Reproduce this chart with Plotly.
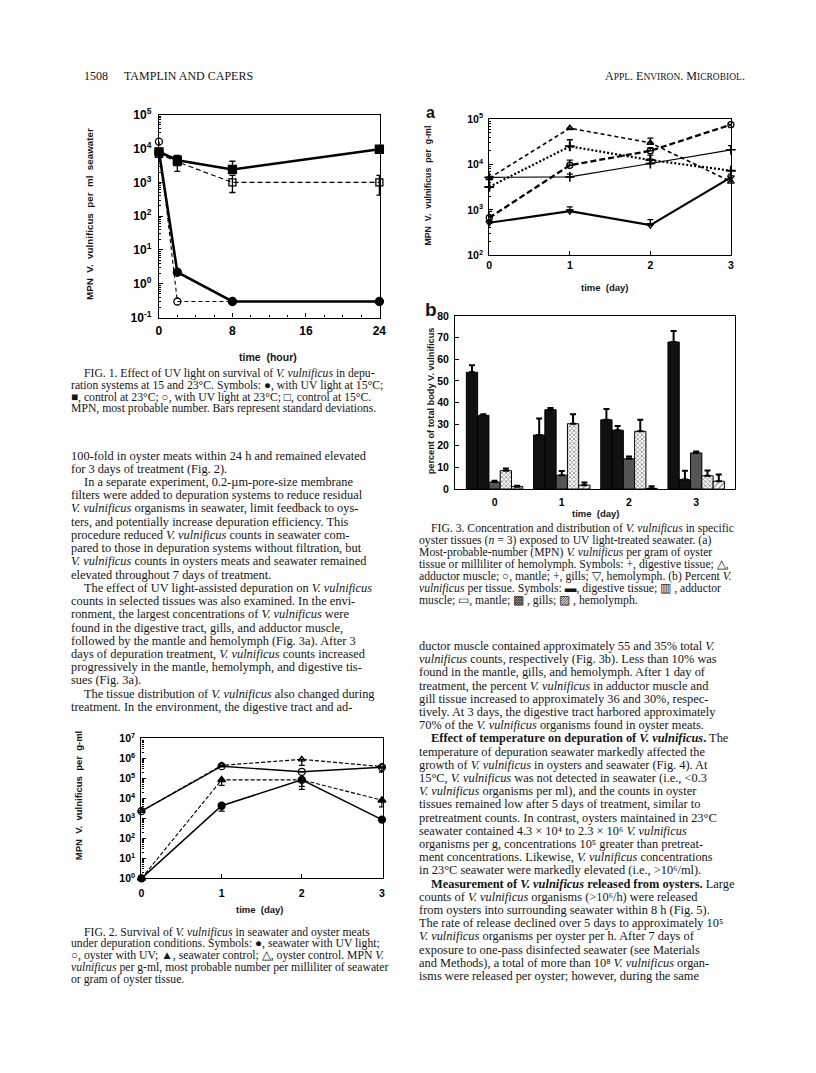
import plotly.graph_objects as go

W, H = 816, 1073


def fx(p):
    return p / W


def fy(p):
    return 1 - p / H


# ---------------- DATA ----------------
# Fig. 1 : MPN V. vulnificus per ml seawater vs time (hour)
fig1_time = [0, 2, 8, 24]
fig1_uv15 = [8000, 2.2, 0.3, 0.3]          # filled circle
fig1_ctrl23 = [8000, 4500, 2400, 9500]     # filled square
fig1_uv23 = [16000, 0.3, 0.3, 0.3]         # open circle
fig1_ctrl15 = [7000, 4000, 1000, 1000]     # open square
fig1_ctrl23_sd_up = [0, 1800, 1800, 0]
fig1_ctrl15_sd_up = [0, 0, 600, 600]
fig1_ctrl15_sd_dn = [0, 1900, 500, 580]

# Fig. 3a : MPN per g-ml per tissue vs time (day)
fig3_days = [0, 1, 2, 3]
fig3a_digestive = [5200, 5300, 10500, 21000]
fig3a_adductor = [5000, 63000, 30000, 4200]
fig3a_mantle = [670, 9600, 20000, 75000]
fig3a_gills = [3200, 25000, 12500, 7300]
fig3a_hemolymph = [520, 940, 460, 5200]
fig3a_digestive_sd = [0, 800, 2500, 5000]
fig3a_adductor_sd = [0, 0, 8000, 0]
fig3a_mantle_sd = [260, 2900, 3000, 0]
fig3a_gills_sd = [0, 10000, 3500, 0]
fig3a_gills_sd_dn = [0, 0, 2000, 0]
fig3a_hemolymph_sd = [0, 220, 150, 900]

# Fig. 3b : percent of total body V. vulnificus
fig3b_digestive = [54, 25, 32, 68]
fig3b_adductor = [34.1, 36.7, 27.2, 4.4]
fig3b_mantle = [3.2, 6.4, 14, 16.7]
fig3b_gills = [8.5, 30.2, 26.7, 6.1]
fig3b_hemolymph = [1.1, 1.8, 0.3, 3.6]
fig3b_digestive_sd = [3.2, 7.6, 5.0, 5.1]
fig3b_adductor_sd = [0.5, 0.8, 2.0, 4.1]
fig3b_mantle_sd = [0.6, 1.9, 1.0, 0.6]
fig3b_gills_sd = [1.0, 4.4, 5.3, 2.5]
fig3b_hemolymph_sd = [0.4, 1.2, 1.0, 3.1]

# Fig. 2 : MPN per g-ml, seawater and oyster meats
fig2_days = [0, 1, 2, 3]
fig2_sea_uv = [1, 4300, 85000, 870]            # filled circle
fig2_oyster_uv = [2300, 410000, 215000, 360000]  # open circle
fig2_sea_ctrl = [1, 85000, 85000, 8100]        # filled triangle
fig2_oyster_ctrl = [2300, 450000, 900000, 390000]  # open triangle
fig2_sea_uv_sd = [0, 2000, 57000, 0]
fig2_sea_ctrl_sd = [0, 40000, 45000, 4300]
fig2_oyster_ctrl_sd = [0, 0, 450000, 0]
fig2_oyster_uv_sd = [0, 0, 0, 150000]

log_labels = {k: "<b>10<sup>%d</sup></b>" % k for k in range(-1, 8)}

# ---------------- FIGURE ----------------
fig = go.Figure()

LBLK = "black"


def sc(x, y, xa, ya, symbol, size, lw, dash, err_up=None, err_dn=None, mlw=1.3):
    ey = None
    if err_up is not None or err_dn is not None:
        up = err_up if err_up is not None else [0] * len(x)
        dn = err_dn if err_dn is not None else [0] * len(x)
        ey = dict(type="data", symmetric=False, array=up, arrayminus=dn,
                  color=LBLK, thickness=1.3, width=3)
    return go.Scatter(
        x=x, y=y, xaxis=xa, yaxis=ya, mode="lines+markers",
        line=dict(color=LBLK, width=lw, dash=dash),
        marker=dict(symbol=symbol, size=size, color=LBLK,
                    line=dict(color=LBLK, width=mlw)),
        error_y=ey, cliponaxis=False, showlegend=False,
    )


# Fig 1
fig.add_trace(sc(fig1_time, fig1_ctrl15, "x", "y", "square-open", 7, 1.1, "5px,3px",
                 fig1_ctrl15_sd_up, fig1_ctrl15_sd_dn))
fig.add_trace(sc(fig1_time, fig1_uv23, "x", "y", "circle-open", 7, 1.1, "4px,3px"))
fig.add_trace(sc(fig1_time, fig1_ctrl23, "x", "y", "square", 8, 2.6, "solid",
                 fig1_ctrl23_sd_up, None))
fig.add_trace(sc(fig1_time, fig1_uv15, "x", "y", "circle", 8, 2.6, "solid"))

# Fig 3a
fig.add_trace(sc(fig3_days, fig3a_digestive, "x2", "y2", "cross-thin-open", 7, 1.2, "solid",
                 fig3a_digestive_sd, None, 1.6))
fig.add_trace(sc(fig3_days, fig3a_adductor, "x2", "y2", "triangle-up-open", 6, 1.6, "4px,3px",
                 fig3a_adductor_sd, None))
fig.add_trace(sc(fig3_days, fig3a_mantle, "x2", "y2", "circle-open", 6, 2.3, "6px,3px",
                 fig3a_mantle_sd, None))
fig.add_trace(sc(fig3_days, fig3a_gills, "x2", "y2", "cross-thin-open", 7, 2.2, "2px,2px",
                 fig3a_gills_sd, fig3a_gills_sd_dn, 2.0))
fig.add_trace(sc(fig3_days, fig3a_hemolymph, "x2", "y2", "triangle-down-open", 6, 2.2, "solid",
                 fig3a_hemolymph_sd, None))

# Fig 3b bars
bar_specs = [
    (fig3b_digestive, fig3b_digestive_sd, dict(color="#111111")),
    (fig3b_adductor, fig3b_adductor_sd, dict(color="#111111")),
    (fig3b_mantle, fig3b_mantle_sd, dict(color="#555555")),
    (fig3b_gills, fig3b_gills_sd, dict(color="white",
                                       pattern=dict(shape="x", size=3, solidity=0.45,
                                                    fgcolor="#111111", bgcolor="white"))),
    (fig3b_hemolymph, fig3b_hemolymph_sd, dict(color="white",
                                               pattern=dict(shape="/", size=4, solidity=0.3,
                                                            fgcolor="#111111", bgcolor="white"))),
]
for vals, sd, mk in bar_specs:
    m = dict(mk)
    m["line"] = dict(color="black", width=1)
    fig.add_trace(go.Bar(
        x=fig3_days, y=vals, xaxis="x3", yaxis="y3", marker=m, showlegend=False,
        error_y=dict(type="data", symmetric=False, array=sd, arrayminus=[0] * len(sd),
                     color="black", thickness=2, width=3),
    ))

# Fig 2
fig.add_trace(sc(fig2_days, fig2_oyster_ctrl, "x4", "y4", "triangle-up-open", 6, 1.2, "4px,2px",
                 None, fig2_oyster_ctrl_sd))
fig.add_trace(sc(fig2_days, fig2_sea_ctrl, "x4", "y4", "triangle-up", 7, 1.1, "4px,2px",
                 None, fig2_sea_ctrl_sd))
fig.add_trace(sc(fig2_days, fig2_oyster_uv, "x4", "y4", "circle-open", 7, 1.4, "solid",
                 None, fig2_oyster_uv_sd))
fig.add_trace(sc(fig2_days, fig2_sea_uv, "x4", "y4", "circle", 7, 1.5, "solid",
                 None, fig2_sea_uv_sd))


def box(dom, **kw):
    d = dict(domain=dom, showline=True, mirror=True, linecolor="black", linewidth=1.4,
             showgrid=False, zeroline=False, ticks="inside", tickcolor="black",
             ticklen=4, tickwidth=1.2,
             tickfont=dict(family="Liberation Sans", size=11, color="black"))
    d.update(kw)
    return d


def logminor(lo, hi):
    v = []
    for e in range(lo, hi):
        for k in range(2, 10):
            v.append(k * 10 ** e)
    return v


TF = dict(family="Liberation Sans", size=12, color="black")
TFs = dict(family="Liberation Sans", size=10.5, color="black")

fig.update_layout(
    width=W, height=H, margin=dict(l=0, r=0, t=0, b=0),
    paper_bgcolor="white", plot_bgcolor="rgba(0,0,0,0)",
    showlegend=False, barmode="group", bargap=0.16, bargroupgap=0,
    # Fig 1
    xaxis=box([fx(157.7), fx(381.5)], anchor="y", range=[0, 24.1],
              tickvals=[0, 8, 16, 24], ticktext=["<b>0</b>", "<b>8</b>", "<b>16</b>", "<b>24</b>"],
              minor=dict(tickvals=list(range(2, 24, 2)), ticks="inside", ticklen=2,
                         tickcolor="black"),
              tickfont=TF, ticklabelstandoff=2),
    yaxis=box([fy(313.3), fy(107.3)], anchor="x", type="log", range=[-1, 5],
              tickvals=[10 ** k for k in range(-1, 6)],
              ticktext=[log_labels[k] for k in range(-1, 6)],
              minor=dict(tickvals=logminor(-1, 5), ticks="inside", ticklen=2,
                         tickcolor="black"),
              tickfont=TF, ticklabelstandoff=4),
    # Fig 3a
    xaxis2=box([fx(491.7), fx(736)], anchor="y2", range=[0, 3],
               tickvals=[0, 1, 2, 3], ticktext=["<b>0</b>", "<b>1</b>", "<b>2</b>", "<b>3</b>"],
               tickfont=TFs, ticklabelstandoff=0),
    yaxis2=box([fy(250), fy(111.7)], anchor="x2", type="log", range=[2, 5],
               tickvals=[10 ** k for k in range(2, 6)],
               ticktext=[log_labels[k] for k in range(2, 6)],
               minor=dict(tickvals=logminor(2, 5), ticks="inside", ticklen=2,
                          tickcolor="black"),
               tickfont=TFs, ticklabelstandoff=3),
    # Fig 3b
    xaxis3=box([fx(457.3), fx(740)], anchor="y3", range=[-0.585, 3.575],
               tickvals=[0, 1, 2, 3], ticktext=["<b>0</b>", "<b>1</b>", "<b>2</b>", "<b>3</b>"],
               ticks="", tickfont=TFs, ticklabelstandoff=3),
    yaxis3=box([fy(487.3), fy(311.7)], anchor="x3", range=[0, 80],
               tickvals=list(range(0, 81, 10)),
               ticktext=["<b>%d</b>" % v for v in range(0, 81, 10)],
               tickfont=TFs, ticklabelstandoff=3),
    # Fig 2
    xaxis4=box([fx(140), fx(384)], anchor="y4", range=[0, 3.01],
               tickvals=[0, 1, 2, 3], ticktext=["<b>0</b>", "<b>1</b>", "<b>2</b>", "<b>3</b>"],
               tickfont=TFs, ticklabelstandoff=5),
    yaxis4=box([fy(882.5), fy(740.5)], anchor="x4", type="log", range=[0, 7],
               tickvals=[10 ** k for k in range(0, 8)],
               ticktext=[log_labels[k] for k in range(0, 8)],
               minor=dict(tickvals=logminor(0, 7), ticks="inside", ticklen=2,
                          tickcolor="black"),
               tickfont=TFs, ticklabelstandoff=3),
)

ann = []


def A(text, x, y, size=12.4, family="Liberation Serif", xanchor="left", yanchor="middle",
      angle=0, color="#151515"):
    ann.append(dict(text=text, x=fx(x), y=fy(y), xref="paper", yref="paper",
                    showarrow=False, xanchor=xanchor, yanchor=yanchor, textangle=angle,
                    font=dict(family=family, size=size, color=color)))


SANS = "Liberation Sans"
# axis titles
A("<b>MPN  V.  vulnificus  per  ml  seawater</b>", 88, 208, 9.8, SANS, "center", "middle", -90)
A("<b>time  (hour)</b>", 268, 353, 10.5, SANS, "center")
A("<b>MPN  V.  vulnificus  per  g-ml</b>", 430, 179, 8.8, SANS, "center", "middle", -90)
A("<b>time  (day)</b>", 609, 283, 9.5, SANS, "center")
A("<b>percent of total body V. vulnificus</b>", 433, 398, 9.2, SANS, "center", "middle", -90)
A("<b>time  (day)</b>", 600, 512, 9.5, SANS, "center")
A("<b>MPN  V.  vulnificus  per  g-ml</b>", 76, 798, 9.5, SANS, "center", "middle", -90)
A("<b>time  (day)</b>", 260, 914, 9.5, SANS, "center")
A("<b>a</b>", 432, 105, 16, SANS, "center")
A("<b>b</b>", 433, 305, 19, SANS, "center")

# page header
A("1508", 80, 68, 12)
A("TAMPLIN AND CAPERS", 120, 68, 12)
sc9 = "<span style='font-size:9.5px'>"
A("A" + sc9 + "PPL</span>. E" + sc9 + "NVIRON</span>. M" + sc9 + "ICROBIOL</span>.",
  752, 68, 12, xanchor="right")

CAP = 11.7
# Fig 1 caption
cap1 = [
    (80, "FIG. 1. Effect of UV light on survival of <i>V. vulnificus</i> in depu-"),
    (67, "ration systems at 15 and 23°C. Symbols: ●, with UV light at 15°C;"),
    (67, "■, control at 23°C; ○, with UV light at 23°C; □, control at 15°C."),
    (67, "MPN, most probable number. Bars represent standard deviations."),
]
for i, (x, t) in enumerate(cap1):
    A(t, x, 370 + 12 * i, CAP)

# left column body
left_body = [
    (67, "100-fold in oyster meats within 24 h and remained elevated"),
    (67, "for 3 days of treatment (Fig. 2)."),
    (80, "In a separate experiment, 0.2-µm-pore-size membrane"),
    (67, "filters were added to depuration systems to reduce residual"),
    (67, "<i>V. vulnificus</i> organisms in seawater, limit feedback to oys-"),
    (67, "ters, and potentially increase depuration efficiency. This"),
    (67, "procedure reduced <i>V. vulnificus</i> counts in seawater com-"),
    (67, "pared to those in depuration systems without filtration, but"),
    (67, "<i>V. vulnificus</i> counts in oysters meats and seawater remained"),
    (67, "elevated throughout 7 days of treatment."),
    (80, "The effect of UV light-assisted depuration on <i>V. vulnificus</i>"),
    (67, "counts in selected tissues was also examined. In the envi-"),
    (67, "ronment, the largest concentrations of <i>V. vulnificus</i> were"),
    (67, "found in the digestive tract, gills, and adductor muscle,"),
    (67, "followed by the mantle and hemolymph (Fig. 3a). After 3"),
    (67, "days of depuration treatment, <i>V. vulnificus</i> counts increased"),
    (67, "progressively in the mantle, hemolymph, and digestive tis-"),
    (67, "sues (Fig. 3a)."),
    (80, "The tissue distribution of <i>V. vulnificus</i> also changed during"),
    (67, "treatment. In the environment, the digestive tract and ad-"),
]
for i, (x, t) in enumerate(left_body):
    A(t, x, 453.3 + 13.43 * i)

# Fig 2 caption
cap2 = [
    (80, "FIG. 2. Survival of <i>V. vulnificus</i> in seawater and oyster meats"),
    (67, "under depuration conditions. Symbols: ●, seawater with UV light;"),
    (67, "○, oyster with UV; ▲, seawater control; △, oyster control. MPN <i>V.</i>"),
    (67, "<i>vulnificus</i> per g-ml, most probable number per milliliter of seawater"),
    (67, "or gram of oyster tissue."),
]
for i, (x, t) in enumerate(cap2):
    A(t, x, 937 + 12 * i, CAP)

# Fig 3 caption
cap3 = [
    (431, "FIG. 3. Concentration and distribution of <i>V. vulnificus</i> in specific"),
    (419, "oyster tissues (<i>n</i> = 3) exposed to UV light-treated seawater. (a)"),
    (419, "Most-probable-number (MPN) <i>V. vulnificus</i> per gram of oyster"),
    (419, "tissue or milliliter of hemolymph. Symbols: +, digestive tissue; △,"),
    (419, "adductor muscle; ○, mantle; +, gills; ▽, hemolymph. (b) Percent <i>V.</i>"),
    (419, "<i>vulnificus</i> per tissue. Symbols: ▬, digestive tissue; ▥ , adductor"),
    (419, "muscle; ▭, mantle; ▩ , gills; ▨ , hemolymph."),
]
for i, (x, t) in enumerate(cap3):
    A(t, x, 527 + 12.2 * i, CAP)

right_body = [
    (419, "ductor muscle contained approximately 55 and 35% total <i>V.</i>"),
    (419, "<i>vulnificus</i> counts, respectively (Fig. 3b). Less than 10% was"),
    (419, "found in the mantle, gills, and hemolymph. After 1 day of"),
    (419, "treatment, the percent <i>V. vulnificus</i> in adductor muscle and"),
    (419, "gill tissue increased to approximately 36 and 30%, respec-"),
    (419, "tively. At 3 days, the digestive tract harbored approximately"),
    (419, "70% of the <i>V. vulnificus</i> organisms found in oyster meats."),
    (431, "<b>Effect of temperature on depuration of <i>V. vulnificus</i>.</b> The"),
    (419, "temperature of depuration seawater markedly affected the"),
    (419, "growth of <i>V. vulnificus</i> in oysters and seawater (Fig. 4). At"),
    (419, "15°C, <i>V. vulnificus</i> was not detected in seawater (i.e., &lt;0.3"),
    (419, "<i>V. vulnificus</i> organisms per ml), and the counts in oyster"),
    (419, "tissues remained low after 5 days of treatment, similar to"),
    (419, "pretreatment counts. In contrast, oysters maintained in 23°C"),
    (419, "seawater contained 4.3 × 10⁴ to 2.3 × 10⁶ <i>V. vulnificus</i>"),
    (419, "organisms per g, concentrations 10⁵ greater than pretreat-"),
    (419, "ment concentrations. Likewise, <i>V. vulnificus</i> concentrations"),
    (419, "in 23°C seawater were markedly elevated (i.e., &gt;10⁶/ml)."),
    (431, "<b>Measurement of <i>V. vulnificus</i> released from oysters.</b> Large"),
    (419, "counts of <i>V. vulnificus</i> organisms (&gt;10⁶/h) were released"),
    (419, "from oysters into surrounding seawater within 8 h (Fig. 5)."),
    (419, "The rate of release declined over 5 days to approximately 10⁵"),
    (419, "<i>V. vulnificus</i> organisms per oyster per h. After 7 days of"),
    (419, "exposure to one-pass disinfected seawater (see Materials"),
    (419, "and Methods), a total of more than 10⁸ <i>V. vulnificus</i> organ-"),
    (419, "isms were released per oyster; however, during the same"),
]
for i, (x, t) in enumerate(right_body):
    A(t, x, 646.7 + 13.4 * i)

fig.update_layout(annotations=ann)

fig.write_html("out.html", config={"displayModeBar": False},
               post_script="document.body.style.margin='0px';document.body.style.overflow='hidden';")
